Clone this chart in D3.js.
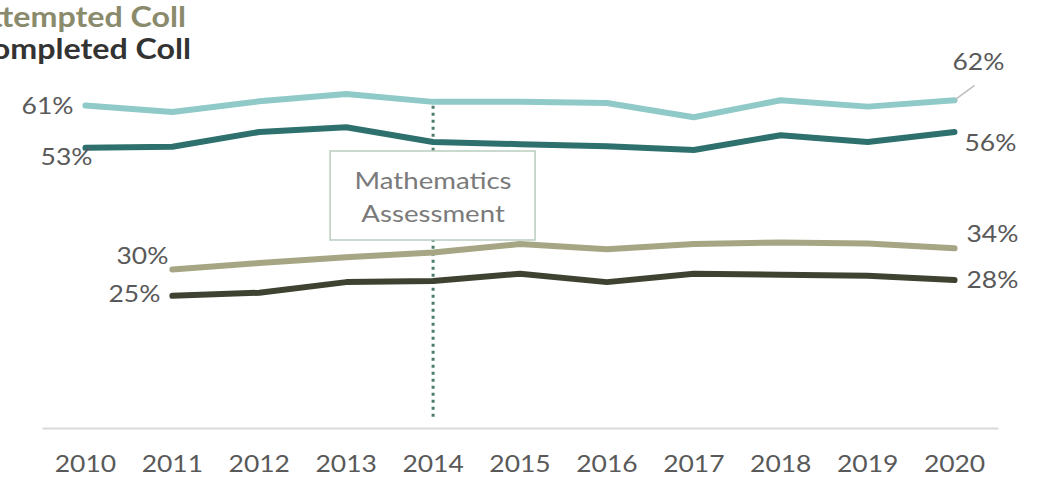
<!DOCTYPE html>
<html>
<head>
<meta charset="utf-8">
<script src="https://cdn.jsdelivr.net/npm/d3@7"></script>
<style>
  html, body { margin: 0; padding: 0; background: #fff; }
  svg { display: block; }
  text { font-family: Lato, "Open Sans", sans-serif; }
</style>
</head>
<body>
<svg id="chart" width="1043" height="482"></svg>
<script>
// Years on the x axis
const years = ["2010","2011","2012","2013","2014","2015","2016","2017","2018","2019","2020"];

// Percent of students (null = no data that year)
const upperAttempted = [61, 59.8, 61.8, 63.2, 61.7, 61.7, 61.5, 58.8, 62.0, 60.8, 62];
const upperCompleted = [53, 53.2, 56.0, 56.9, 54.1, 53.7, 53.3, 52.6, 55.4, 54.1, 56];
const attempted      = [null, 30, 31.2, 32.3, 33.2, 34.8, 33.8, 34.8, 35.1, 34.9, 34];
const completed      = [null, 25, 25.6, 27.6, 27.8, 29.2, 27.6, 29.2, 29.0, 28.8, 28];

const legendLabels = ["Attempted Coll", "Completed Coll"];
const annotationLines = ["Mathematics", "Assessment"];
const annotationYear = "2014";

// Text is drawn slightly wide
const STRETCH = 1.15;

const svg = d3.select("#chart");

const x = d3.scaleBand().domain(years).range([42, 998]);
const y = d3.scaleLinear().domain([0, 70]).range([428, 58]);
const cx = d => x(d) + x.bandwidth() / 2;

function wideText(parent, px, py, str) {
  return parent.append("text")
    .attr("transform", `translate(${px},${py}) scale(${STRETCH},1)`)
    .text(str);
}

// Truncated legend in the top-left corner
wideText(svg, 186, 27, legendLabels[0]).attr("text-anchor", "end")
  .attr("font-size", 28).attr("font-weight", 700).attr("fill", "#8a8a6c");
wideText(svg, 191, 59, legendLabels[1]).attr("text-anchor", "end")
  .attr("font-size", 28).attr("font-weight", 700).attr("fill", "#333333");

// Baseline axis
const xAxis = d3.axisBottom(x).tickSize(0).tickPadding(28);
const gx = svg.append("g").attr("transform", "translate(0,428)").call(xAxis);
gx.select(".domain").attr("stroke", "#d9d9d9").attr("stroke-width", 2);
gx.selectAll("text").attr("font-size", 23).attr("fill", "#595959")
  .attr("font-family", "Lato, 'Open Sans', sans-serif")
  .attr("transform", `scale(${STRETCH},1)`);

// Dotted marker for the assessment year
svg.append("line")
  .attr("x1", cx(annotationYear)).attr("x2", cx(annotationYear))
  .attr("y1", y(upperAttempted[years.indexOf(annotationYear)]) + 4).attr("y2", 418)
  .attr("stroke", "#4e7d69").attr("stroke-width", 3).attr("stroke-dasharray", "3,4");

// Series lines
const series = [
  { values: upperAttempted, color: "#8fcac8" },
  { values: upperCompleted, color: "#2e706d" },
  { values: attempted,      color: "#a6a685" },
  { values: completed,      color: "#3e4331" }
];
const line = d3.line()
  .defined(d => d.v != null)
  .x(d => cx(d.year))
  .y(d => y(d.v));
series.forEach(s => {
  svg.append("path")
    .datum(years.map((yr, i) => ({ year: yr, v: s.values[i] })))
    .attr("d", line)
    .attr("fill", "none")
    .attr("stroke", s.color)
    .attr("stroke-width", 6)
    .attr("stroke-linecap", "round")
    .attr("stroke-linejoin", "round");
});

// Annotation box
const boxX = cx(annotationYear);
svg.append("rect").attr("x", boxX - 103).attr("y", 151).attr("width", 205).attr("height", 89)
  .attr("fill", "#ffffff").attr("stroke", "#b9cdbf").attr("stroke-width", 1.5);
wideText(svg, boxX, 189, annotationLines[0]).attr("text-anchor", "middle")
  .attr("font-size", 24).attr("fill", "#7a7a7a");
wideText(svg, boxX, 222, annotationLines[1]).attr("text-anchor", "middle")
  .attr("font-size", 24).attr("fill", "#7a7a7a");

// End-point value labels
const fmt = v => Math.round(v) + "%";
const first = arr => arr.findIndex(v => v != null);
const last = arr => arr.length - 1;
const labels = [
  { arr: upperAttempted, i: first(upperAttempted), dx: -12, dy: 0, anchor: "end" },
  { arr: upperCompleted, i: first(upperCompleted), dx: 7, dy: 9, anchor: "end" },
  { arr: attempted, i: first(attempted), dx: -4, dy: -13, anchor: "end" },
  { arr: completed, i: first(completed), dx: -12, dy: -2, anchor: "end" },
  { arr: upperAttempted, i: last(upperAttempted), dx: -2, dy: -38, anchor: "start", leader: true },
  { arr: upperCompleted, i: last(upperCompleted), dx: 10, dy: 11, anchor: "start" },
  { arr: attempted, i: last(attempted), dx: 12, dy: -14, anchor: "start" },
  { arr: completed, i: last(completed), dx: 12, dy: 0, anchor: "start" }
];
labels.forEach(l => {
  const px = cx(years[l.i]), py = y(l.arr[l.i]);
  if (l.leader) {
    svg.append("line").attr("x1", px + 1).attr("y1", py - 1).attr("x2", px + 20).attr("y2", py - 15)
      .attr("stroke", "#bfbfbf").attr("stroke-width", 1.5);
  }
  wideText(svg, px + l.dx, py + l.dy, fmt(l.arr[l.i]))
    .attr("dy", "0.35em")
    .attr("text-anchor", l.anchor)
    .attr("font-size", 23).attr("fill", "#595959");
});
</script>
</body>
</html>
